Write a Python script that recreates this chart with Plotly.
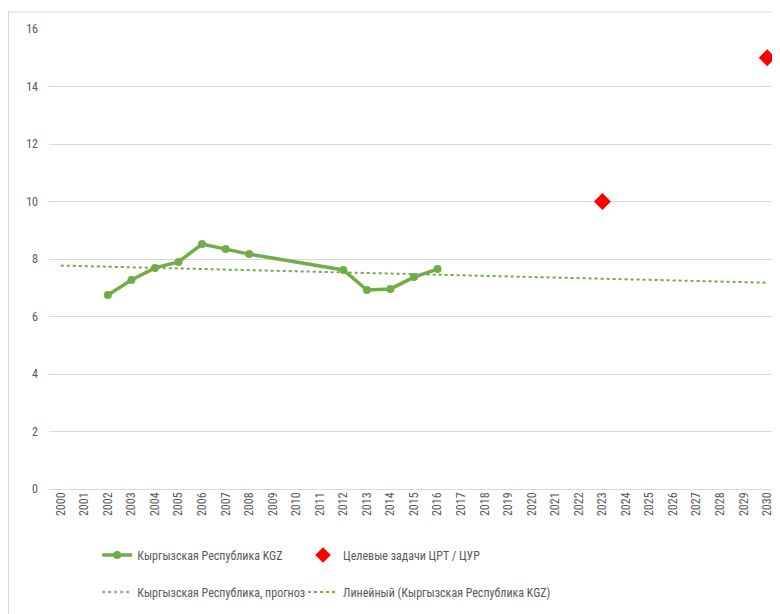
import numpy as np
import plotly.graph_objects as go

# data
years = list(range(2000, 2031))
kgz_years = [2002, 2003, 2004, 2005, 2006, 2007, 2008, 2012, 2013, 2014, 2015, 2016]
kgz_values = [6.75, 7.27, 7.69, 7.90, 8.52, 8.35, 8.17, 7.62, 6.92, 6.96, 7.37, 7.65]
target_years = [2023, 2030]
target_values = [10, 15]
forecast_years = [None]   # the forecast series has no visible points, only a legend entry
forecast_values = [None]

# linear trendline of the KGZ series (as the spreadsheet draws it), 2000..2030
slope, icpt = np.polyfit(kgz_years, kgz_values, 1)
trend_years = [years[0], years[-1]]
trend_values = [slope * x + icpt for x in trend_years]

green = '#70AD47'
grey_txt = '#595959'
grid = '#D9D9D9'
fnt = 'Liberation Sans Narrow, Roboto Condensed, Liberation Sans'

fig = go.Figure()
fig.add_trace(go.Scatter(x=kgz_years, y=kgz_values, mode='lines+markers', name='Кыргызская Республика KGZ',
                         line=dict(color=green, width=3.5), marker=dict(color=green, size=8),
                         legend='legend', showlegend=True))
fig.add_trace(go.Scatter(x=target_years, y=target_values, mode='markers', name='Целевые задачи ЦРТ / ЦУР',
                         marker=dict(color='#FF0000', size=13, symbol='diamond'), legend='legend2', showlegend=True))
fig.add_trace(go.Scatter(x=forecast_years, y=forecast_values, mode='lines', name='Кыргызская Республика, прогноз',
                         line=dict(color='#A5A5A5', width=2.5, dash='dot'), legend='legend3', showlegend=True))
fig.add_trace(go.Scatter(x=trend_years, y=trend_values, mode='lines', name='Линейный (Кыргызская Республика KGZ)',
                         line=dict(color=green, width=2, dash='dot'), legend='legend4', showlegend=True))

# the page body has an 8px margin, so the figure is made 8px smaller and margins shifted
leg = dict(orientation='h', xanchor='left', yanchor='middle', bgcolor='rgba(0,0,0,0)',
           font=dict(family=fnt, size=12, color=grey_txt), itemclick=False)
col1, col2 = 0.066, 0.348
row1, row2 = -0.1435, -0.224
fig.update_layout(
    width=772, height=606, margin=dict(l=41, r=1, t=21, b=125), showlegend=True,
    plot_bgcolor='white', paper_bgcolor='white', font=dict(family=fnt, size=12, color=grey_txt),
    legend=dict(leg, x=col1, y=row1), legend2=dict(leg, x=col2, y=row1, itemsizing='constant'),
    legend3=dict(leg, x=col1, y=row2), legend4=dict(leg, x=col2, y=row2),
    xaxis=dict(range=[1999.5, 2030.5], tickmode='array', tickvals=years, ticktext=[str(y) for y in years],
               tickangle=-90, showgrid=False, zeroline=False, showline=False, ticks='',
               tickfont=dict(size=12, color=grey_txt)),
    yaxis=dict(range=[0, 16], dtick=2, showgrid=True, gridcolor=grid, gridwidth=1, zeroline=True,
               zerolinecolor=grid, zerolinewidth=1, showline=False, ticks='', ticklabelstandoff=10,
               tickfont=dict(size=12, color=grey_txt)),
    shapes=[dict(type='rect', xref='paper', yref='paper', x0=-0.0555, x1=1.02, y0=-0.6, y1=1.037,
                 line=dict(color=grid, width=1), fillcolor='rgba(0,0,0,0)', layer='below')],
)
fig.write_html('out.html')
